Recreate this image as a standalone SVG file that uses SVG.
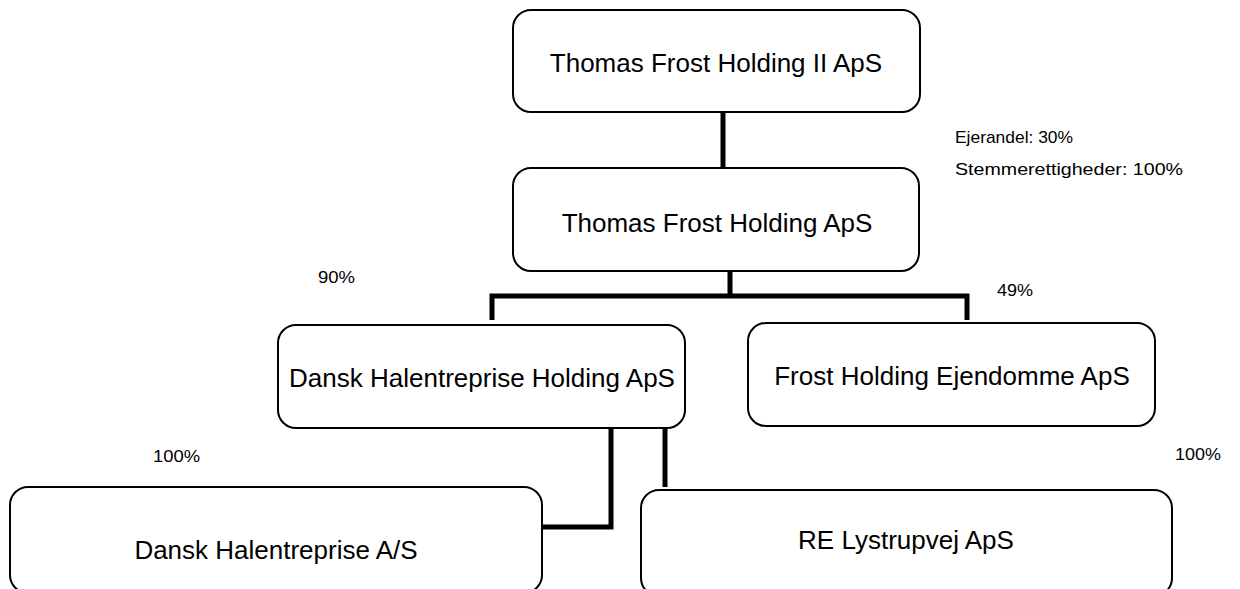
<svg xmlns="http://www.w3.org/2000/svg" width="1240" height="589" viewBox="0 0 1240 589">
<style>
.box{fill:#fff;stroke:#000;stroke-width:2}
.t{font-family:"Liberation Sans",Arial,sans-serif;font-size:26px;fill:#000;text-anchor:middle}
.s{font-family:"Liberation Sans",Arial,sans-serif;font-size:17px;fill:#000}
.c{fill:none;stroke:#000;stroke-width:5;stroke-linecap:butt;stroke-linejoin:miter}
</style>
<rect width="1240" height="589" fill="#fff"/>
<g id="connectors">
<path class="c" d="M723,112 V168"/>
<path class="c" d="M730,271 V296 M492,296 H968 M492,293.5 V320 M967,293.5 V320"/>
<path class="c" d="M611,424 V527 H543"/>
<path class="c" d="M665,426 V487"/>
</g>
<g id="n1"><rect class="box" x="513" y="10" width="407" height="102" rx="18"/><text class="t" x="716" y="72">Thomas Frost Holding II ApS</text></g>
<g id="n2"><rect class="box" x="513" y="168" width="406" height="103" rx="18"/><text class="t" x="717" y="232">Thomas Frost Holding ApS</text></g>
<g id="n3"><rect class="box" x="278" y="325" width="407" height="103" rx="18"/><text class="t" x="482" y="387">Dansk Halentreprise Holding ApS</text></g>
<g id="n4"><rect class="box" x="748" y="323" width="407" height="103" rx="18"/><text class="t" x="952" y="385">Frost Holding Ejendomme ApS</text></g>
<g id="n5"><rect class="box" x="10" y="487" width="532" height="106" rx="18"/><text class="t" x="276" y="559">Dansk Halentreprise A/S</text></g>
<g id="n6"><rect class="box" x="641" y="490" width="531" height="106" rx="18"/><text class="t" x="906" y="549">RE Lystrupvej ApS</text></g>
<g id="labels">
<text class="s" x="955" y="143" textLength="118" lengthAdjust="spacingAndGlyphs">Ejerandel: 30%</text>
<text class="s" x="955" y="175" textLength="228" lengthAdjust="spacingAndGlyphs">Stemmerettigheder: 100%</text>
<text class="s" x="318" y="283" textLength="37" lengthAdjust="spacingAndGlyphs">90%</text>
<text class="s" x="997" y="296" textLength="36" lengthAdjust="spacingAndGlyphs">49%</text>
<text class="s" x="153" y="462" textLength="47" lengthAdjust="spacingAndGlyphs">100%</text>
<text class="s" x="1175" y="460" textLength="46" lengthAdjust="spacingAndGlyphs">100%</text>
</g>
</svg>
